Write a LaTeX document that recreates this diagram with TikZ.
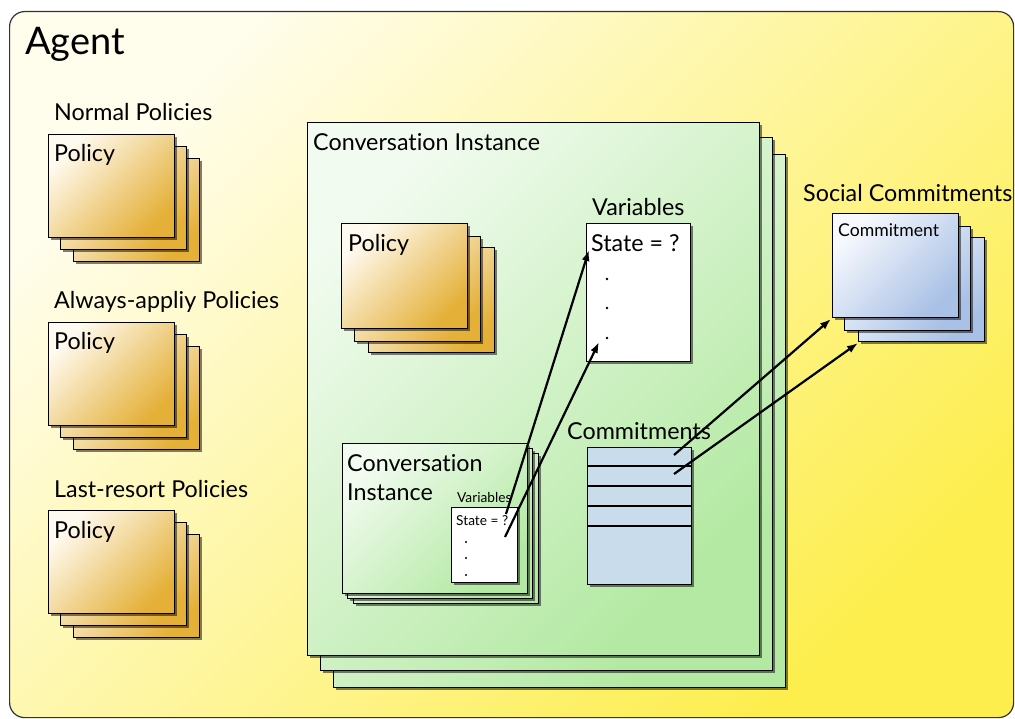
\documentclass[tikz,border=0pt]{standalone}
\usepackage{fontspec}
\setmainfont{Lato}[Ligatures={NoCommon}]
\usetikzlibrary{shadows,arrows.meta}
\definecolor{agentA}{HTML}{FFFDEC}
\definecolor{agentB}{HTML}{FDEE4E}
\definecolor{goldA}{HTML}{FFFAF0}
\definecolor{goldB}{HTML}{E4B038}
\definecolor{greenA}{HTML}{F1FBEF}
\definecolor{greenB}{HTML}{B3E9A2}
\definecolor{blueA}{HTML}{F7F9FE}
\definecolor{blueB}{HTML}{A9C1E6}
\definecolor{tableblue}{HTML}{C9DCEC}
\begin{document}
\begin{tikzpicture}[x=1pt,y=-1pt,
  box/.style={draw=black, line width=1.3pt, anchor=north west, inner sep=0pt, rectangle,
    drop shadow={shadow xshift=2.5pt,shadow yshift=-2.5pt,opacity=0.5,fill=black}},
  policybox/.style={box, top color=goldA, bottom color=goldB, shading angle=45,
    minimum width=126pt, minimum height=103pt},
  ipolicybox/.style={policybox, minimum height=105pt},
  cibox/.style={box, top color=greenA, bottom color=greenB, shading angle=45,
    minimum width=452pt, minimum height=533pt},
  icibox/.style={box, top color=greenA, bottom color=greenB, shading angle=45,
    minimum width=185pt, minimum height=150pt},
  combox/.style={box, top color=blueA, bottom color=blueB, shading angle=45,
    minimum width=126pt, minimum height=104pt},
  varbox/.style={box, fill=white},
  lbl/.style={anchor=base west, inner sep=0pt, font=\fontsize{23.3}{27}\selectfont},
  slbl/.style={anchor=base west, inner sep=0pt, font=\fontsize{17.6}{20}\selectfont},
  tlbl/.style={anchor=base west, inner sep=0pt, font=\fontsize{13.7}{16}\selectfont},
  dotmark/.style={circle, fill=black, inner sep=0pt, minimum size=2.6pt},
  arr/.style={line width=2.2pt, -{Latex[length=11pt,width=8pt]}}
]
\useasboundingbox (0,0) rectangle (1015,719);
% Agent frame
\node[draw=black!80, line width=1.2pt, rounded corners=15pt, anchor=north west,
  top color=agentA, bottom color=agentB, shading angle=45, inner sep=0pt,
  minimum width=1004pt, minimum height=706pt] (agent) at (9,11) {};
\node[anchor=base west, inner sep=0pt, font=\fontsize{38}{43}\selectfont] (agentlbl) at (25,55) {Agent};

% Left policy stacks
\node[lbl] (npl) at (54,121) {Normal Policies};
\node[policybox] (np3) at (73,158) {};
\node[policybox] (np2) at (60,146) {};
\node[policybox] (np1) at (48,134) {};
\node[lbl] (np1t) at (54,162) {Policy};

\node[lbl] (apl) at (54,309) {Always-appliy Policies};
\node[policybox] (ap3) at (73,346) {};
\node[policybox] (ap2) at (60,334) {};
\node[policybox] (ap1) at (48,322) {};
\node[lbl] (ap1t) at (54,350) {Policy};

\node[lbl] (lpl) at (54,497) {Last-resort Policies};
\node[policybox] (lp3) at (73,534) {};
\node[policybox] (lp2) at (60,522) {};
\node[policybox] (lp1) at (48,510) {};
\node[lbl] (lp1t) at (54,538) {Policy};

% Conversation instance stack
\node[cibox] (ci3) at (333,154) {};
\node[cibox] (ci2) at (320,137) {};
\node[cibox] (ci1) at (307,122) {};
\node[lbl] (cilbl) at (313,151) {Conversation Instance};

% inner policy stack
\node[ipolicybox] (ip3) at (368,247) {};
\node[ipolicybox] (ip2) at (354,236) {};
\node[ipolicybox] (ip1) at (341,223) {};
\node[lbl] (ip1t) at (348,252) {Policy};

% Variables
\node[lbl] (varlbl) at (592,216) {Variables};
\node[varbox, minimum width=104pt, minimum height=138pt] (var) at (586,223) {};
\node[lbl] (state) at (591,252) {State = ?};
\node[dotmark] (vd1) at (607,279) {};
\node[dotmark] (vd2) at (607,308) {};
\node[dotmark] (vd3) at (607,338) {};

% Commitments table
\node[lbl] (comlbl) at (567,439) {Commitments};
\node[box, fill=tableblue, minimum width=104pt, minimum height=137pt] (tab) at (587,447) {};
\draw[line width=1.3pt] (tab.west |- 0,466) -- (tab.east |- 0,466)
  (tab.west |- 0,486) -- (tab.east |- 0,486)
  (tab.west |- 0,506) -- (tab.east |- 0,506)
  (tab.west |- 0,526) -- (tab.east |- 0,526);

% inner conversation instance
\node[icibox] (ic3) at (353,453) {};
\node[icibox] (ic2) at (347,448) {};
\node[icibox] (ic1) at (342,443) {};
\node[lbl] (ic1a) at (347,471) {Conversation};
\node[lbl] (ic1b) at (347,500) {Instance};
\node[tlbl] (svlbl) at (457,502) {Variables};
\node[varbox, minimum width=66pt, minimum height=75pt] (sv) at (451,507) {};
\node[tlbl] (sstate) at (456,525) {State = ?};
\node[dotmark, minimum size=2.2pt] (sd1) at (466,542) {};
\node[dotmark, minimum size=2.2pt] (sd2) at (466,558) {};
\node[dotmark, minimum size=2.2pt] (sd3) at (466,575) {};

% Social commitments
\node[lbl] (sclbl) at (803,202) {Social Commitments};
\node[combox] (sc3) at (858,237) {};
\node[combox] (sc2) at (844,226) {};
\node[combox] (sc1) at (832,213) {};
\node[slbl] (sc1t) at (838,237) {Commitment};

% arrows
\coordinate (s1) at (506,514);
\coordinate (t1) at (589,250);
\coordinate (s2) at (505,537);
\coordinate (t2) at (599,342);
\coordinate (s3) at (674,455);
\coordinate (t3) at (831,319);
\coordinate (s4) at (674,474);
\coordinate (t4) at (858,343);
\draw[arr] (s1) -- (t1);
\draw[arr] (s2) -- (t2);
\draw[arr] (s3) -- (t3);
\draw[arr] (s4) -- (t4);
\end{tikzpicture}
\end{document}
